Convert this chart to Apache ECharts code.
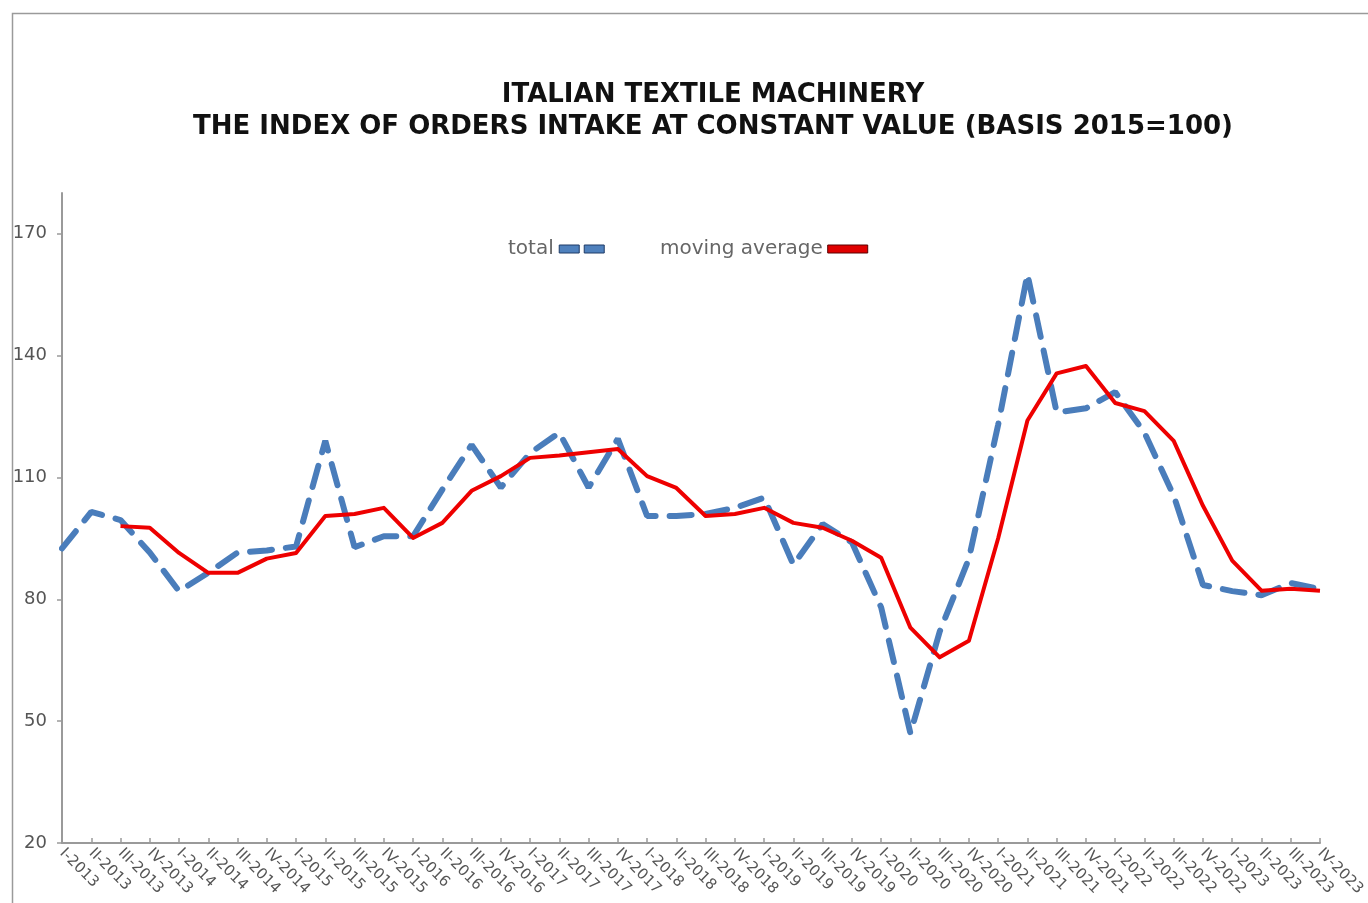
<!DOCTYPE html>
<html>
<head>
<meta charset="utf-8">
<script src="https://cdn.jsdelivr.net/npm/echarts@6/dist/echarts.min.js"></script>
<style>
html,body{margin:0;padding:0;background:#fff;}
#chart{width:1368px;height:903px;}
</style>
</head>
<body>
<div id="chart"></div>
<script>
var categories = [
  'I-2013','II-2013','III-2013','IV-2013',
  'I-2014','II-2014','III-2014','IV-2014',
  'I-2015','II-2015','III-2015','IV-2015',
  'I-2016','II-2016','III-2016','IV-2016',
  'I-2017','II-2017','III-2017','IV-2017',
  'I-2018','II-2018','III-2018','IV-2018',
  'I-2019','II-2019','III-2019','IV-2019',
  'I-2020','II-2020','III-2020','IV-2020',
  'I-2021','II-2021','III-2021','IV-2021',
  'I-2022','II-2022','III-2022','IV-2022',
  'I-2023','II-2023','III-2023','IV-2023'
];
var totalValues = [
  92.5, 101.5, 99.5, 91.5,
  82, 86.5, 91.5, 92,
  93, 119, 92.8, 95.5,
  95.5, 107, 118, 107.5,
  116, 121, 107.5, 119.5,
  100.5, 100.5, 101, 102.5,
  105, 88.5, 98.5, 94,
  78, 47, 72, 90,
  123, 160, 126, 127,
  131, 121, 105.5, 83.5,
  82, 81, 84, 82.5
];
var movingAverageValues = [
  null, null, 98, 97.6,
  91.4, 86.5, 86.5, 90,
  91.4, 100.5, 101, 102.5,
  95.1, 98.8, 106.7, 110.3,
  114.8, 115.4, 116.2, 117,
  110.3, 107.4, 100.5, 101,
  102.5, 98.8, 97.6, 94.4,
  90.2, 73, 65.7, 69.8,
  95, 124, 135.6, 137.4,
  128.3, 126.3, 119, 103,
  89.5, 82.1, 82.6, 82.1
];
var yTickValues = [20, 50, 80, 110, 140, 170];

var chart = echarts.init(document.getElementById('chart'));
chart.setOption({
  backgroundColor: '#ffffff',
  animation: false,
  title: {
    text: 'ITALIAN TEXTILE MACHINERY\nTHE INDEX OF ORDERS INTAKE AT CONSTANT VALUE (BASIS 2015=100)',
    left: 708,
    top: 74,
    textAlign: 'center',
    textStyle: {
      fontFamily: 'DejaVu Sans',
      fontWeight: 'bold',
      fontSize: 26,
      lineHeight: 32,
      color: '#111111'
    }
  },
  graphic: [{
    type: 'rect',
    shape: {x: 12.5, y: 13.5, width: 1400, height: 1000},
    style: {fill: 'none', stroke: '#9a9a9a', lineWidth: 1.5},
    silent: true
  }],
  legend: [{
    data: [{
      name: 'total',
      icon: 'path://M0,0H20V8H0Z M25,0H45V8H25Z',
      itemStyle: {color: '#4f81bd', borderColor: '#1f3b66', borderWidth: 1}
    }],
    left: 503,
    top: 234,
    align: 'right',
    itemWidth: 46,
    itemHeight: 8,
    textStyle: {fontFamily: 'DejaVu Sans', fontSize: 20, color: '#666666'}
  }, {
    data: [{
      name: 'moving average',
      icon: 'rect',
      itemStyle: {color: '#e00000', borderColor: '#5a0000', borderWidth: 1}
    }],
    left: 655,
    top: 234,
    align: 'right',
    itemWidth: 40,
    itemHeight: 8,
    textStyle: {fontFamily: 'DejaVu Sans', fontSize: 20, color: '#666666'}
  }],
  grid: {left: 62, right: 46, top: 193, bottom: 60, containLabel: false},
  xAxis: {
    type: 'category',
    data: categories,
    boundaryGap: false,
    axisLine: {lineStyle: {color: '#9a9a9a', width: 2}},
    axisTick: {show: true, inside: true, length: 5, lineStyle: {color: '#9a9a9a', width: 1.5}},
    axisLabel: {
      interval: 0,
      rotate: -45,
      margin: 8,
      fontFamily: 'DejaVu Sans',
      fontSize: 15,
      color: '#555555'
    },
    splitLine: {show: false}
  },
  yAxis: {
    type: 'value',
    min: 20,
    max: 180,
    interval: 30,
    axisLine: {show: true, lineStyle: {color: '#9a9a9a', width: 2}},
    axisTick: {show: true, length: 5, customValues: yTickValues, lineStyle: {color: '#9a9a9a', width: 1.5}},
    axisLabel: {
      customValues: yTickValues,
      margin: 15,
      fontFamily: 'DejaVu Sans',
      fontSize: 18,
      color: '#555555'
    },
    splitLine: {show: false}
  },
  series: [{
    name: 'total',
    type: 'line',
    data: totalValues,
    showSymbol: false,
    symbol: 'none',
    lineStyle: {color: '#4a7dbb', width: 6, type: [22, 14], cap: 'round'},
    itemStyle: {color: '#4a7dbb'},
    z: 2
  }, {
    name: 'moving average',
    type: 'line',
    data: movingAverageValues,
    showSymbol: false,
    symbol: 'none',
    connectNulls: false,
    lineStyle: {color: '#ee0000', width: 4, join: 'round'},
    itemStyle: {color: '#ee0000'},
    z: 3
  }]
});
</script>
</body>
</html>
